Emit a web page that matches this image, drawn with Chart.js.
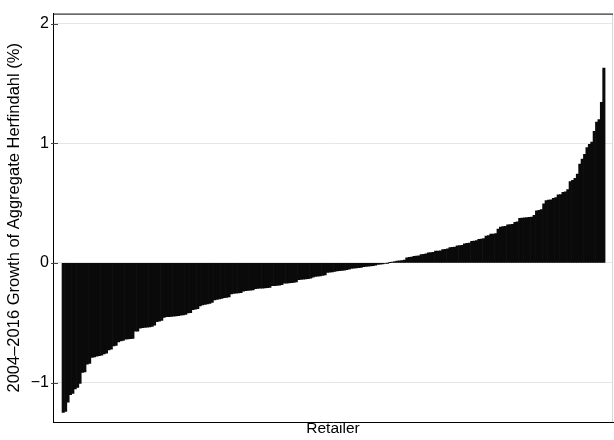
<!DOCTYPE html>
<html>
<head>
<meta charset="utf-8">
<script src="https://cdn.jsdelivr.net/npm/chart.js@4/dist/chart.umd.min.js"></script>
<style>
  html, body { margin: 0; padding: 0; background: #fff; }
  #wrap { width: 614px; height: 440px; }
</style>
</head>
<body>
<div id="wrap"><canvas id="herfChart" width="614" height="440"></canvas></div>
<script>
// 2004-2016 growth of aggregate Herfindahl, one bar per retailer, sorted
var growthPct = [
  -1.25, -1.24, -1.163, -1.10, -1.09, -1.052, -1.04, -1.006, -0.915, -0.91,
  -0.845, -0.84, -0.79, -0.785, -0.78, -0.775, -0.77, -0.76, -0.755, -0.727,
  -0.72, -0.694, -0.69, -0.66, -0.652, -0.648, -0.636, -0.634, -0.632, -0.63,
  -0.57, -0.57, -0.545, -0.54, -0.538, -0.536, -0.534, -0.53, -0.52, -0.49,
  -0.486, -0.48, -0.455, -0.45, -0.448, -0.446, -0.444, -0.442, -0.44, -0.437,
  -0.434, -0.43, -0.418, -0.415, -0.39, -0.387, -0.383, -0.36, -0.35, -0.346,
  -0.342, -0.338, -0.33, -0.31, -0.304, -0.3, -0.296, -0.29, -0.288, -0.285,
  -0.258, -0.255, -0.252, -0.25, -0.248, -0.235, -0.232, -0.23, -0.228, -0.225,
  -0.215, -0.213, -0.211, -0.21, -0.208, -0.206, -0.204, -0.19, -0.189, -0.188,
  -0.186, -0.182, -0.17, -0.169, -0.167, -0.165, -0.162, -0.158, -0.14, -0.138,
  -0.136, -0.134, -0.131, -0.128, -0.118, -0.113, -0.111, -0.108, -0.105, -0.1,
  -0.08, -0.078, -0.075, -0.072, -0.066, -0.064, -0.062, -0.06, -0.057, -0.052,
  -0.046, -0.044, -0.042, -0.04, -0.037, -0.032, -0.03, -0.028, -0.025, -0.022,
  -0.018, -0.013, -0.011, -0.008, -0.005, -0.002, 0.003, 0.008, 0.012, 0.015,
  0.018, 0.02, 0.024, 0.043, 0.046, 0.048, 0.056, 0.058, 0.06, 0.07,
  0.072, 0.075, 0.084, 0.086, 0.088, 0.098, 0.1, 0.102, 0.112, 0.114,
  0.117, 0.128, 0.13, 0.132, 0.142, 0.144, 0.146, 0.16, 0.163, 0.166,
  0.18, 0.183, 0.186, 0.198, 0.2, 0.203, 0.225, 0.228, 0.24, 0.242,
  0.245, 0.282, 0.3, 0.303, 0.306, 0.318, 0.32, 0.323, 0.34, 0.343,
  0.372, 0.374, 0.376, 0.378, 0.38, 0.383, 0.398, 0.435, 0.44, 0.445,
  0.494, 0.52, 0.524, 0.528, 0.54, 0.545, 0.568, 0.572, 0.59, 0.595,
  0.613, 0.68, 0.69, 0.707, 0.742, 0.825, 0.867, 0.908, 0.964, 0.99,
  1.01, 1.10, 1.177, 1.198, 1.342, 1.627
];

// retailer rank 1..N (x categories)
var retailerRank = [];
for (var i = 0; i < growthPct.length; i++) retailerRank.push(i + 1);

var yTicks = [-1, 0, 1, 2];
var yTitle = "2004\u20132016 Growth of Aggregate Herfindahl (%)";
var xTitle = "Retailer";

var fontFamily = "'Liberation Sans', Arial, sans-serif";

// top/right frame + small inside tick marks on the y axis
var framePlugin = {
  id: "frame",
  afterDraw: function(chart){
    var ctx = chart.ctx;
    var a = chart.chartArea;
    ctx.save();
    ctx.lineWidth = 1;
    ctx.strokeStyle = "#d9d9d9";
    ctx.beginPath();
    ctx.moveTo(a.right - 0.5, a.top);
    ctx.lineTo(a.right - 0.5, a.bottom);
    ctx.stroke();
    ctx.strokeStyle = "#000";
    ctx.beginPath();
    ctx.moveTo(a.left, a.top + 0.5);
    ctx.lineTo(a.right, a.top + 0.5);
    ctx.stroke();
    ctx.strokeStyle = "#444";
    var ys = chart.scales.y;
    $each(yTicks, function(v){
      var py = Math.round(ys.getPixelForValue(v)) + 0.5;
      ctx.beginPath();
      ctx.moveTo(a.left - 2, py);
      ctx.lineTo(a.left + 5, py);
      ctx.stroke();
    });
    ctx.restore();
  }
};

function $each(arr, fn){ for (var k = 0; k < arr.length; k++) fn(arr[k], k); }

new Chart(document.getElementById("herfChart"), {
  type: "bar",
  data: {
    labels: retailerRank,
    datasets: [{
      data: growthPct,
      backgroundColor: "#0a0a0a",
      borderWidth: 0,
      barPercentage: 1,
      categoryPercentage: 1
    }]
  },
  options: {
    responsive: false,
    animation: false,
    layout: { padding: { top: 10, right: 1, left: 0, bottom: 0 } },
    plugins: {
      legend: { display: false },
      tooltip: { enabled: false }
    },
    scales: {
      x: {
        type: "linear",
        offset: false,
        min: -3.25,
        max: 229.8,
        grid: { display: false, drawTicks: false },
        border: { display: true, color: "#000", width: 1 },
        ticks: { display: false },
        title: {
          display: true,
          text: xTitle,
          color: "#000",
          font: { family: fontFamily, size: 15.5 },
          padding: { top: 0, bottom: 2 }
        },
        afterFit: function(scale){ scale.height = 18; }
      },
      y: {
        min: -1.329,
        max: 2.083,
        afterBuildTicks: function(scale){
          scale.ticks = yTicks.map(function(v){ return { value: v }; });
        },
        grid: { color: "#e6e6e6", lineWidth: 1, drawTicks: false },
        border: { display: true, color: "#000", width: 1 },
        ticks: {
          color: "#000",
          padding: 4,
          font: { family: fontFamily, size: 16 },
          callback: function(v){ return String(v).replace("-", "\u2212"); }
        },
        title: {
          display: true,
          text: yTitle,
          color: "#000",
          font: { family: fontFamily, size: 16.5 },
          padding: { top: 5, bottom: 0 }
        },
        afterFit: function(scale){ scale.width = 53; }
      }
    }
  },
  plugins: [framePlugin]
});
</script>
</body>
</html>
